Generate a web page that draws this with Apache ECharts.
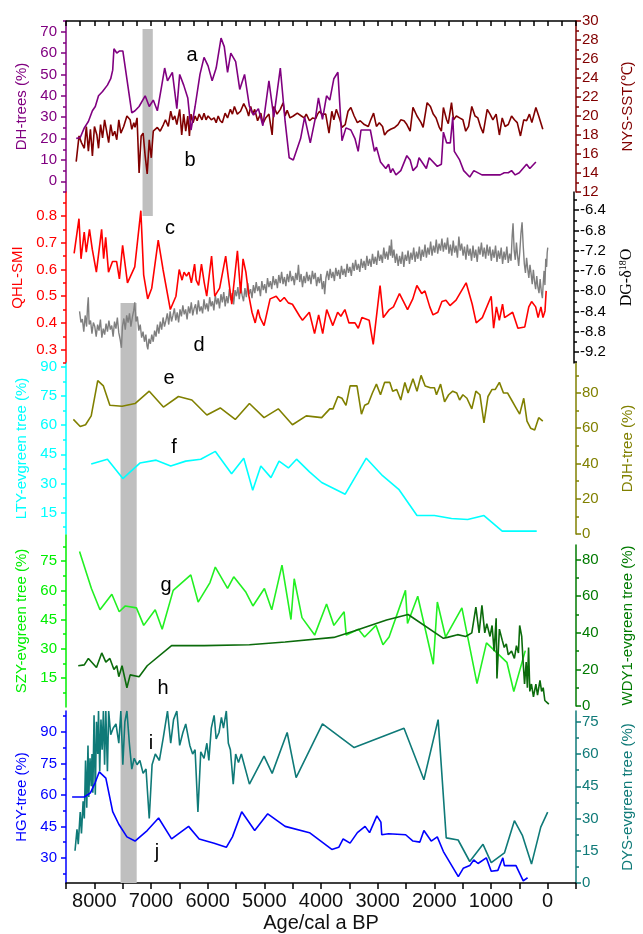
<!DOCTYPE html>
<html>
<head>
<meta charset="utf-8">
<title>Holocene records</title>
<script src="https://cdn.jsdelivr.net/npm/echarts@6/dist/echarts.min.js"></script>
<style>
html, body { margin: 0; padding: 0; background: #fff; }
#chart { width: 643px; height: 934px; }
</style>
</head>
<body>
<div id="chart"></div>
<script>
// ---- data: [age cal a BP, value] ----
var dhTrees = [[8320,20],[8249,20.5],[8177,25],[8105,28],[8034,33],[7983,35],[7926,40],[7855,42],[7769,45],[7711,48],[7676,52],[7654,62],[7604,60],[7554,61],[7497,61],[7339,32],[7282,33],[7210,35],[7103,40],[7031,35],[6960,38],[6888,33],[6816,44],[6759,53],[6709,47],[6623,51],[6544,34],[6494,50],[6423,45],[6351,39],[6294,24],[6222,35],[6136,50],[6064,58],[5993,54],[5921,47],[5850,53],[5764,67],[5707,63],[5649,51],[5592,60],[5506,56],[5434,43],[5349,50],[5263,35],[5191,31],[5105,34],[5026,26],[4919,47],[4833,30],[4718,53],[4633,28],[4561,11],[4489,10],[4360,20],[4289,30],[4189,18],[4096,30],[4045,39],[3974,29],[3902,40],[3845,38],[3773,48],[3702,51],[3630,19],[3559,25],[3473,24],[3401,20],[3344,14],[3294,24],[3129,24],[3057,14],[3022,16],[2950,9],[2857,6],[2807,8],[2771,4],[2735,6],[2678,3],[2592,5],[2485,12],[2427,10],[2377,5],[2306,7],[2270,11],[2141,6],[2091,11],[1948,7],[1876,8],[1840,23],[1783,18],[1718,18],[1675,30],[1647,14],[1554,10],[1482,5],[1375,2],[1303,5],[1160,3],[838,3],[766,4],[695,4],[637,5],[573,3],[501,4],[372,8],[315,6],[208,9]];

var nysSst = [[8320,15.2],[8270,17.9],[8227,17.2],[8177,16.6],[8141,18.9],[8105,16.3],[8069,18.6],[8034,15.8],[7998,18.9],[7955,18.0],[7926,16.6],[7890,19.1],[7855,17.7],[7819,19.6],[7783,18.4],[7747,17.2],[7711,19.1],[7676,17.9],[7640,18.4],[7604,17.5],[7568,19.6],[7532,18.2],[7482,18.9],[7425,20.0],[7368,19.6],[7339,18.6],[7303,19.3],[7282,18.8],[7246,19.8],[7210,14.0],[7174,17.9],[7139,18.2],[7103,15.8],[7067,13.9],[7031,17.5],[6995,15.6],[6960,18.4],[6888,18.8],[6838,18.4],[6781,19.1],[6745,19.6],[6695,18.9],[6652,20.5],[6616,19.6],[6580,20.0],[6544,19.1],[6494,20.7],[6458,18.0],[6423,20.2],[6387,18.4],[6351,20.0],[6322,17.9],[6294,20.2],[6258,19.3],[6222,20.0],[6186,19.5],[6150,20.2],[6100,19.6],[6064,20.3],[6029,19.6],[5993,20.0],[5936,19.6],[5886,19.8],[5850,19.3],[5814,20.0],[5778,19.5],[5742,19.3],[5692,20.3],[5649,19.8],[5599,20.7],[5563,20.2],[5528,21.0],[5477,20.2],[5420,20.5],[5363,21.3],[5313,20.7],[5277,20.0],[5241,21.0],[5205,20.2],[5170,20.7],[5119,19.5],[5062,20.3],[5026,19.2],[4976,19.8],[4919,20.2],[4862,18.0],[4833,21.0],[4776,20.2],[4718,20.7],[4668,21.4],[4633,20.0],[4597,20.6],[4547,19.8],[4489,20.0],[4418,20.3],[4346,20.0],[4296,19.8],[4260,20.2],[4203,19.5],[4146,19.8],[4096,19.7],[4060,20.2],[4024,20.5],[3988,20.2],[3917,20.2],[3859,18.2],[3809,20.5],[3773,19.6],[3730,20.7],[3666,19.6],[3630,18.8],[3573,19.1],[3523,20.5],[3473,20.9],[3415,20.0],[3358,19.3],[3308,19.5],[3236,19.1],[3165,18.9],[3129,19.5],[3072,20.3],[3022,18.9],[2971,19.3],[2914,18.9],[2878,18.0],[2828,18.4],[2771,18.6],[2699,18.8],[2642,19.1],[2592,19.6],[2535,19.5],[2485,19.1],[2427,18.4],[2377,20.9],[2306,20.0],[2234,19.3],[2198,18.8],[2127,21.4],[2069,21.0],[2019,20.2],[1969,19.8],[1912,18.8],[1876,18.4],[1840,20.9],[1783,19.6],[1754,19.2],[1697,21.4],[1661,19.6],[1611,20.0],[1554,19.8],[1496,19.6],[1446,18.4],[1396,18.9],[1339,21.0],[1282,20.0],[1232,19.8],[1181,18.8],[1138,18.2],[1067,20.7],[1017,20.2],[967,19.6],[909,20.2],[852,18.0],[802,19.8],[752,18.9],[695,19.1],[637,20.0],[587,19.6],[537,19.3],[480,17.9],[422,19.6],[372,19.5],[322,20.2],[279,19.3],[208,20.9],[158,20.0],[86,18.6]];

var qhlSmi = [[8356,0.66],[8270,0.79],[8234,0.64],[8177,0.74],[8141,0.665],[8084,0.75],[8034,0.675],[7962,0.59],[7869,0.75],[7833,0.64],[7797,0.72],[7747,0.59],[7676,0.63],[7604,0.63],[7554,0.565],[7497,0.69],[7411,0.55],[7282,0.61],[7174,0.82],[7124,0.58],[7053,0.49],[6981,0.53],[6866,0.71],[6781,0.60],[6652,0.45],[6552,0.50],[6494,0.60],[6444,0.56],[6408,0.59],[6365,0.575],[6322,0.59],[6279,0.55],[6222,0.62],[6193,0.56],[6150,0.54],[6100,0.62],[6050,0.55],[6007,0.50],[5921,0.65],[5864,0.50],[5778,0.53],[5671,0.65],[5621,0.565],[5563,0.47],[5463,0.67],[5406,0.51],[5363,0.64],[5313,0.59],[5263,0.505],[5205,0.44],[5148,0.40],[5098,0.45],[5062,0.42],[4991,0.39],[4884,0.49],[4776,0.50],[4704,0.48],[4633,0.495],[4561,0.475],[4489,0.47],[4360,0.425],[4310,0.41],[4189,0.44],[4096,0.36],[4024,0.43],[3952,0.36],[3881,0.45],[3773,0.39],[3687,0.44],[3630,0.425],[3559,0.45],[3487,0.40],[3380,0.40],[3322,0.38],[3258,0.42],[3129,0.41],[3057,0.32],[2936,0.54],[2878,0.42],[2771,0.45],[2699,0.46],[2592,0.51],[2520,0.48],[2449,0.45],[2356,0.49],[2284,0.54],[2198,0.51],[2141,0.52],[2055,0.46],[1998,0.43],[1912,0.44],[1840,0.48],[1769,0.485],[1697,0.465],[1590,0.485],[1411,0.55],[1303,0.47],[1232,0.40],[1124,0.42],[967,0.50],[924,0.38],[874,0.46],[823,0.41],[766,0.47],[730,0.42],[587,0.44],[494,0.38],[372,0.385],[301,0.46],[251,0.48],[179,0.46],[136,0.42],[86,0.46],[50,0.42],[14,0.445],[-7,0.52]];

var dgD18O = [[8260,-8.40],[8235,-8.62],[8210,-8.55],[8185,-8.80],[8160,-8.48],[8135,-8.70],[8118,-8.30],[8105,-8.12],[8090,-8.66],[8065,-8.58],[8040,-8.84],[8015,-8.62],[7990,-8.70],[7965,-8.90],[7940,-8.66],[7915,-8.78],[7890,-8.56],[7865,-8.92],[7840,-8.74],[7815,-8.86],[7790,-8.64],[7765,-8.80],[7740,-8.58],[7715,-8.76],[7690,-8.68],[7665,-8.90],[7640,-8.60],[7615,-8.74],[7590,-8.52],[7565,-8.82],[7540,-8.96],[7518,-9.12],[7500,-8.70],[7475,-8.54],[7450,-8.76],[7425,-8.48],[7400,-8.62],[7375,-8.44],[7350,-8.70],[7325,-8.52],[7300,-8.38],[7282,-8.22],[7260,-8.60],[7235,-8.50],[7210,-8.78],[7185,-8.66],[7160,-8.92],[7135,-8.80],[7110,-9.00],[7085,-8.86],[7065,-9.08],[7050,-9.15],[7030,-8.94],[7005,-9.04],[6980,-8.86],[6955,-9.00],[6930,-8.78],[6905,-8.90],[6880,-8.66],[6855,-8.84],[6830,-8.60],[6805,-8.76],[6780,-8.52],[6755,-8.70],[6730,-8.58],[6705,-8.44],[6680,-8.66],[6655,-8.40],[6630,-8.60],[6605,-8.48],[6580,-8.34],[6555,-8.58],[6530,-8.42],[6505,-8.62],[6480,-8.36],[6455,-8.50],[6430,-8.28],[6405,-8.46],[6380,-8.36],[6355,-8.56],[6330,-8.30],[6305,-8.44],[6280,-8.22],[6255,-8.48],[6230,-8.34],[6205,-8.26],[6180,-8.46],[6155,-8.18],[6130,-8.40],[6105,-8.30],[6080,-8.44],[6055,-8.16],[6030,-8.36],[6005,-8.24],[5980,-8.40],[5955,-8.12],[5930,-8.30],[5905,-8.20],[5880,-8.38],[5855,-8.08],[5830,-8.26],[5805,-8.14],[5780,-8.34],[5755,-8.06],[5730,-8.22],[5705,-8.02],[5680,-8.30],[5655,-8.10],[5630,-8.24],[5605,-7.96],[5580,-8.18],[5555,-8.04],[5530,-8.26],[5505,-7.98],[5480,-8.10],[5455,-7.92],[5430,-8.16],[5405,-7.90],[5380,-8.08],[5355,-8.20],[5330,-7.94],[5305,-8.12],[5280,-7.84],[5255,-8.06],[5230,-7.96],[5205,-8.14],[5180,-7.88],[5155,-8.04],[5130,-7.82],[5105,-8.00],[5080,-7.90],[5055,-8.10],[5030,-7.80],[5005,-7.98],[4980,-7.86],[4955,-8.04],[4930,-7.74],[4905,-7.92],[4880,-7.80],[4855,-7.96],[4830,-7.70],[4805,-7.88],[4780,-7.76],[4755,-7.94],[4730,-7.68],[4705,-7.84],[4680,-7.62],[4655,-7.86],[4630,-7.72],[4605,-7.90],[4580,-7.66],[4555,-7.82],[4530,-7.60],[4505,-7.80],[4480,-7.70],[4455,-7.88],[4430,-7.64],[4405,-7.78],[4382,-7.48],[4360,-7.82],[4335,-7.66],[4310,-7.92],[4285,-7.70],[4260,-7.84],[4235,-7.62],[4210,-7.80],[4185,-7.68],[4160,-7.86],[4135,-7.60],[4110,-7.76],[4085,-7.64],[4060,-7.90],[4035,-7.72],[4010,-7.84],[3985,-7.66],[3960,-7.96],[3935,-7.80],[3917,-8.06],[3895,-7.74],[3870,-7.60],[3845,-7.78],[3820,-7.56],[3795,-7.74],[3770,-7.62],[3745,-7.80],[3720,-7.54],[3695,-7.70],[3670,-7.58],[3645,-7.76],[3620,-7.50],[3595,-7.68],[3570,-7.56],[3545,-7.72],[3520,-7.46],[3495,-7.64],[3470,-7.52],[3445,-7.70],[3420,-7.44],[3395,-7.60],[3370,-7.38],[3345,-7.58],[3320,-7.46],[3295,-7.62],[3270,-7.36],[3245,-7.54],[3220,-7.40],[3195,-7.58],[3170,-7.30],[3145,-7.50],[3120,-7.36],[3095,-7.52],[3070,-7.26],[3045,-7.46],[3020,-7.32],[2995,-7.48],[2970,-7.20],[2945,-7.40],[2920,-7.28],[2895,-7.44],[2870,-7.14],[2845,-7.36],[2820,-7.22],[2795,-7.38],[2770,-7.10],[2750,-7.30],[2735,-6.98],[2715,-7.34],[2690,-7.18],[2665,-7.44],[2640,-7.26],[2615,-7.50],[2590,-7.30],[2565,-7.46],[2540,-7.22],[2515,-7.52],[2490,-7.28],[2465,-7.40],[2440,-7.20],[2415,-7.46],[2390,-7.24],[2365,-7.38],[2340,-7.14],[2315,-7.42],[2290,-7.22],[2265,-7.36],[2240,-7.12],[2215,-7.40],[2190,-7.18],[2165,-7.32],[2140,-7.08],[2115,-7.34],[2090,-7.14],[2065,-7.28],[2040,-7.02],[2015,-7.30],[1990,-7.10],[1965,-7.24],[1940,-6.98],[1915,-7.26],[1890,-7.06],[1865,-7.20],[1840,-6.96],[1815,-7.22],[1790,-7.04],[1765,-7.18],[1740,-6.94],[1715,-7.26],[1690,-7.08],[1665,-7.30],[1640,-7.00],[1615,-7.24],[1590,-7.10],[1565,-7.34],[1540,-6.92],[1515,-7.20],[1490,-7.06],[1465,-7.30],[1440,-7.12],[1415,-7.38],[1390,-7.08],[1365,-7.30],[1340,-7.16],[1315,-7.40],[1290,-7.10],[1265,-7.34],[1240,-7.18],[1215,-7.42],[1190,-7.12],[1165,-7.28],[1140,-7.04],[1115,-7.32],[1090,-7.14],[1065,-7.36],[1040,-7.08],[1015,-7.30],[990,-7.12],[965,-7.40],[940,-7.18],[915,-7.34],[890,-7.10],[865,-7.42],[840,-7.20],[815,-7.36],[790,-7.14],[765,-7.46],[740,-7.22],[715,-7.38],[690,-7.12],[665,-7.44],[640,-7.26],[615,-7.40],[595,-6.90],[580,-6.66],[560,-7.20],[540,-7.38],[520,-7.04],[500,-7.30],[480,-7.50],[460,-7.22],[440,-6.86],[420,-6.64],[400,-7.10],[380,-7.46],[360,-7.64],[340,-7.34],[320,-7.56],[300,-7.74],[280,-7.48],[260,-7.66],[240,-7.86],[220,-7.58],[200,-7.80],[180,-7.96],[160,-7.70],[140,-7.92],[120,-8.04],[100,-7.76],[80,-8.00],[60,-8.14],[45,-7.84],[30,-7.60],[15,-7.88],[0,-7.36],[-15,-7.52],[-25,-7.24],[-35,-7.14]];

var djhTree = [[8370,65],[8249,61],[8155,62],[8055,67],[7940,87],[7840,84],[7726,73],[7511,72.5],[7282,74],[7031,81],[6781,72],[6516,78],[6279,76],[6014,67.5],[5778,71.5],[5513,65],[5263,74],[5005,66],[4754,71],[4504,62],[4260,67],[3988,66],[3845,71],[3788,71],[3702,78],[3630,77],[3559,73],[3487,84],[3365,84],[3286,68],[3229,73],[3165,74],[3093,80],[3022,85],[2950,79],[2878,86],[2785,86],[2735,81],[2664,82],[2592,76],[2520,86],[2463,80],[2377,88],[2306,81],[2234,90],[2162,84],[2069,83],[1998,83],[1962,79],[1890,85],[1819,75],[1747,79],[1675,81],[1604,80],[1554,76],[1496,79],[1425,77],[1339,71],[1267,81],[1196,79],[1124,63],[1053,78],[981,82],[924,82],[852,86],[780,80],[709,80],[637,76],[566,72],[494,68],[422,77],[365,64],[301,60],[229,59],[158,66],[86,64]];

var ltyEvgreen = [[8055,40],[7769,42.5],[7497,32.5],[7196,40.5],[6909,42],[6652,39],[6387,41.5],[6122,42.5],[5864,46.5],[5578,35],[5363,43],[5205,26.5],[5062,39],[4883,33],[4740,41.5],[4575,38],[4432,42.5],[4203,36],[3988,30.5],[3573,24.5],[3201,43],[2914,34],[2628,27],[2306,13.5],[1998,13.5],[1697,12],[1411,11.5],[1124,13.5],[802,5.5],[193,5.5]];

var szyEvgreen = [[8263,80],[8055,61],[7905,50],[7697,58],[7568,49],[7461,52],[7267,51],[7139,42],[6938,50],[6816,40],[6623,60],[6315,68],[6186,54],[5979,64],[5886,72],[5671,61],[5563,67],[5349,59],[5227,52],[5026,61],[4898,50],[4718,73],[4561,45],[4504,66],[4368,46],[4146,37],[3938,53],[3809,42],[3630,49],[3594,37],[3380,40],[3272,36],[3072,42],[2950,32],[2843,36],[2556,60],[2520,43],[2341,57],[2069,22],[1998,54],[1854,36],[1568,51],[1303,12],[1138,33],[780,23],[659,8],[458,29]];

var wdy1Evgreen = [[8284,22],[8177,22.5],[8105,26],[7962,21],[7869,29],[7797,24],[7726,26],[7654,20],[7604,22],[7568,16],[7511,22],[7425,10],[7368,17],[7210,16],[7067,22],[6637,33],[6064,33],[5263,33.5],[4633,35],[3773,37.5],[3415,41],[2843,47],[2463,50],[1840,37],[1769,37.5],[1590,39],[1446,38],[1339,40],[1267,54],[1210,40],[1160,55],[1110,40],[1074,45],[1017,38],[981,44],[945,30],[909,48],[895,15],[852,42],[802,36],[766,32],[730,34],[695,28],[637,30],[587,26],[551,33],[516,29],[494,44],[458,38],[437,26],[408,12],[379,24],[358,10],[337,32],[315,8],[286,12],[251,5],[208,12],[179,6],[136,14],[107,8],[79,10],[50,3],[14,2],[-21,1]];

var hgyTree = [[8392,59],[8177,59],[8069,61],[7983,66],[7912,71],[7876,70],[7797,68],[7676,52],[7568,46],[7425,40],[7282,38],[7067,43],[6866,49],[6637,39],[6337,45],[6150,39],[5886,37],[5671,35],[5563,40],[5399,52],[5170,43],[4940,51],[4633,45],[4203,42],[3809,34],[3687,35],[3609,39],[3487,37],[3358,42],[3222,45],[3143,42],[3014,50],[2943,47],[2928,41],[2807,41.5],[2506,41],[2377,38],[2255,37.5],[2184,43],[2055,38],[1948,40],[1840,33],[1577,21],[1490,25],[1375,26.3],[1305,29],[1229,27.3],[1083,30],[996,23.6],[879,24],[791,30],[763,26.3],[559,26.3],[431,19],[355,20.5]];

var dysEvgreen = [[8341,15],[8306,25],[8284,18],[8249,33],[8227,23],[8198,38],[8177,30],[8155,57],[8134,35],[8112,64],[8098,40],[8076,58],[8055,45],[8041,60],[8026,42],[8005,78],[7983,41],[7962,75],[7940,60],[7926,80],[7905,52],[7883,76],[7862,62],[7840,80],[7819,55],[7797,80],[7769,52],[7747,80],[7711,69],[7668,72],[7618,74],[7568,65],[7532,80],[7497,55],[7461,75],[7425,80],[7382,65],[7339,53],[7296,58],[7246,55],[7196,57],[7139,51],[7088,53],[7031,30],[6981,55],[6924,60],[6852,57],[6781,68],[6709,80],[6652,65],[6602,76],[6544,80],[6494,64],[6437,70],[6387,74],[6315,64],[6265,60],[6222,62],[6172,33],[6122,61],[6064,58],[6014,65],[5979,57],[5936,72],[5886,78],[5850,67],[5800,70],[5757,77],[5721,72],[5671,80],[5635,65],[5599,62],[5549,46],[5506,60],[5456,56],[5406,60],[5263,46],[5005,59],[4862,51],[4597,70],[4439,49],[3974,74],[3415,63],[2535,72],[2184,48],[1933,76],[1790,21],[1580,20],[1375,10],[1141,18],[996,9.5],[763,14],[587,29],[444,22],[285,8.8],[122,26],[0,33]];

// grey event bands: [older age, younger age]
var eventBands = [[7160, 6980], [7545, 7262]];

// tick labels
var ageLabels = [8000, 7000, 6000, 5000, 4000, 3000, 2000, 1000, 0];
var dhTicks = [0, 10, 20, 30, 40, 50, 60, 70];
var nysTicks = [12, 14, 16, 18, 20, 22, 24, 26, 28, 30];
var qhlTicks = [0.3, 0.4, 0.5, 0.6, 0.7, 0.8];
var dgTicks = [-9.2, -8.8, -8.4, -8.0, -7.6, -7.2, -6.8, -6.4];
var ltyTicks = [15, 30, 45, 60, 75, 90];
var djhTicks = [0, 20, 40, 60, 80];
var szyTicks = [15, 30, 45, 60, 75];
var wdyTicks = [0, 20, 40, 60, 80];
var hgyTicks = [30, 45, 60, 75, 90];
var dysTicks = [0, 15, 30, 45, 60, 75];

// ---- layout ----
var FONT = 'Liberation Sans';
var L = 66, R = 63;
var grids = [
  { left: L, right: R, top: 21, height: 171 },   // 0 a/b
  { left: L, right: R, top: 192, height: 171 },  // 1 c/d
  { left: L, right: R, top: 363, height: 171 },  // 2 e/f
  { left: L, right: R, top: 535, height: 172 },  // 3 g
  { left: L, right: R, top: 711, height: 172 },  // 4 i/j
  { left: L, right: R, top: 545, height: 161 },  // 5 h
  { left: L, right: R, top: 21, height: 862 }    // 6 shading
];

var xAxes = grids.map(function (g, i) {
  var ax = {
    type: 'value', gridIndex: i, min: -500, max: 8500, inverse: true,
    show: false, splitLine: { show: false },
    axisLine: { onZero: false }
  };
  if (i === 0) {
    ax.show = true;
    ax.position = 'top';
    ax.interval = 250;
    ax.axisLine = { show: true, onZero: false, lineStyle: { color: '#000', width: 1.5 } };
    ax.axisTick = { show: true, inside: true, length: 5, lineStyle: { color: '#000', width: 1.5 } };
    ax.axisLabel = { show: false };
  }
  if (i === 4) {
    ax.show = true;
    ax.position = 'bottom';
    ax.interval = 500;
    ax.axisLine = { show: true, onZero: false, lineStyle: { color: '#000', width: 1.5 } };
    ax.axisTick = { show: true, length: 6, lineStyle: { color: '#000', width: 1.5 } };
    ax.axisLabel = {
      show: true, color: '#111', fontSize: 20, fontFamily: FONT, margin: 8,
      formatter: function (v) { return ageLabels.indexOf(v) >= 0 ? String(v) : ''; }
    };
    ax.name = 'Age/cal a BP';
    ax.nameLocation = 'middle';
    ax.nameGap = 30;
    ax.nameTextStyle = { color: '#111', fontSize: 20, fontFamily: FONT };
  }
  return ax;
});

var yAxes = [];
function halfSteps(ticks, lo, hi) {
  var step = ticks[1] - ticks[0], out = [];
  for (var v = ticks[0] - step / 2; v <= hi + 1e-9; v += step) {
    if (v >= lo - 1e-9) out.push(+v.toFixed(4));
  }
  return out;
}
function addAxis(c) {
  var idx = yAxes.length;
  var isLeft = c.side === 'left';
  yAxes.push({
    type: 'value', gridIndex: c.grid, position: c.side, min: c.min, max: c.max,
    name: c.name, nameLocation: 'middle', nameRotate: 90,
    nameGap: isLeft ? 37 : 44,
    nameTextStyle: c.nameStyle || { color: c.color, fontSize: 15, fontFamily: FONT },
    axisLine: { show: true, onZero: false, lineStyle: { color: c.color, width: 1.5 } },
    axisTick: { show: true, length: 5, customValues: c.ticks, lineStyle: { color: c.color, width: 1.5 } },
    axisLabel: {
      show: true, customValues: c.ticks, color: c.color, fontSize: 15, fontFamily: FONT,
      margin: isLeft ? 9 : 6,
      formatter: c.fmt || function (v) { return String(v); }
    },
    splitLine: { show: false }
  });
  yAxes.push({
    type: 'value', gridIndex: c.grid, position: c.side, min: c.min, max: c.max,
    axisLine: { show: false, onZero: false },
    axisLabel: { show: false }, splitLine: { show: false },
    axisTick: { show: true, length: 3, customValues: halfSteps(c.ticks, c.min, c.max), lineStyle: { color: c.color, width: 1.5 } }
  });
  return idx;
}
function fix1(v) { return v.toFixed(1); }

var PURPLE = '#800080', MAROON = '#800000', RED = '#ff0000', GREY = '#7f7f7f';
var CYAN = '#00ffff', OLIVE = '#808000', LIME = '#22f022', DKGREEN = '#0b6b0b';
var BLUE = '#0000ff', TEAL = '#0f7a78';

var yDh = addAxis({ grid: 0, side: 'left', min: -5, max: 75, color: PURPLE, name: 'DH-trees (%)', ticks: dhTicks });
var yNys = addAxis({ grid: 0, side: 'right', min: 12, max: 30, color: MAROON, name: 'NYS-SST(\u2103)', ticks: nysTicks });
var yQhl = addAxis({ grid: 1, side: 'left', min: 0.25, max: 0.89, color: RED, name: 'QHL-SMI', ticks: qhlTicks, fmt: fix1 });
var yDg = addAxis({
  grid: 1, side: 'right', min: -9.42, max: -6.04, color: '#000', name: 'DG-\u03b4{s|18}O', ticks: dgTicks, fmt: fix1,
  nameStyle: { color: '#000', fontSize: 16, fontFamily: 'Liberation Serif', rich: { s: { fontSize: 10, fontFamily: 'Liberation Serif', verticalAlign: 'top', padding: [0, 0, 8, 0] } } }
});
var yLty = addAxis({ grid: 2, side: 'left', min: 4, max: 92, color: CYAN, name: 'LTY-evgreen tree (%)', ticks: ltyTicks });
var yDjh = addAxis({ grid: 2, side: 'right', min: 0, max: 97, color: OLIVE, name: 'DJH-tree (%)', ticks: djhTicks });
var ySzy = addAxis({ grid: 3, side: 'left', min: 0, max: 88.5, color: '#00ee00', name: 'SZY-evgreen tree (%)', ticks: szyTicks });
var yWdy = addAxis({ grid: 5, side: 'right', min: 0, max: 88, color: '#007a00', name: 'WDY1-evgreen tree (%)', ticks: wdyTicks });
var yHgy = addAxis({ grid: 4, side: 'left', min: 18, max: 100, color: BLUE, name: 'HGY-tree (%)', ticks: hgyTicks });
var yDys = addAxis({ grid: 4, side: 'right', min: 0, max: 80, color: TEAL, name: 'DYS-evgreen tree (%)', ticks: dysTicks });

// shading axis: pixel rows below the top frame
var yShade = yAxes.length;
yAxes.push({ type: 'value', gridIndex: 6, min: 0, max: 862, inverse: true, show: false, axisLine: { onZero: false } });

function line(data, grid, yIdx, color, width) {
  return {
    type: 'line', data: data, xAxisIndex: grid, yAxisIndex: yIdx,
    symbol: 'none', showSymbol: false, silent: true, animation: false, z: 3,
    lineStyle: { color: color, width: width || 1.6 }, itemStyle: { color: color }
  };
}

var series = [
  {
    type: 'line', data: [], xAxisIndex: 6, yAxisIndex: yShade, silent: true, animation: false, z: 1,
    markArea: {
      silent: true, itemStyle: { color: '#bfbfbf' },
      data: [
        [{ xAxis: eventBands[0][0], yAxis: 8 }, { xAxis: eventBands[0][1], yAxis: 195 }],
        [{ xAxis: eventBands[1][0], yAxis: 282 }, { xAxis: eventBands[1][1], yAxis: 862 }]
      ]
    }
  },
  line(dgD18O, 1, yDg, GREY, 1.4),
  line(nysSst, 0, yNys, MAROON),
  line(dhTrees, 0, yDh, PURPLE),
  line(qhlSmi, 1, yQhl, RED),
  line(djhTree, 2, yDjh, OLIVE),
  line(ltyEvgreen, 2, yLty, CYAN),
  line(szyEvgreen, 3, ySzy, LIME),
  line(wdy1Evgreen, 5, yWdy, DKGREEN),
  line(dysEvgreen, 4, yDys, TEAL),
  line(hgyTree, 4, yHgy, BLUE)
];

var letters = [['a', 192, 55], ['b', 190, 160], ['c', 170, 228], ['d', 199, 345], ['e', 169, 378],
  ['f', 174, 447], ['g', 166, 585], ['h', 163, 688], ['i', 151, 743], ['j', 157, 852]];

var chart = echarts.init(document.getElementById('chart'), null, { renderer: 'canvas' });
chart.setOption({
  backgroundColor: '#fff',
  animation: false,
  grid: grids,
  xAxis: xAxes,
  yAxis: yAxes,
  series: series,
  graphic: letters.map(function (t) {
    return {
      type: 'text', x: t[1], y: t[2], z: 10, silent: true,
      style: { text: t[0], fontSize: 20, fontFamily: FONT, fill: '#000', align: 'center', verticalAlign: 'middle' }
    };
  })
});
</script>
</body>
</html>
